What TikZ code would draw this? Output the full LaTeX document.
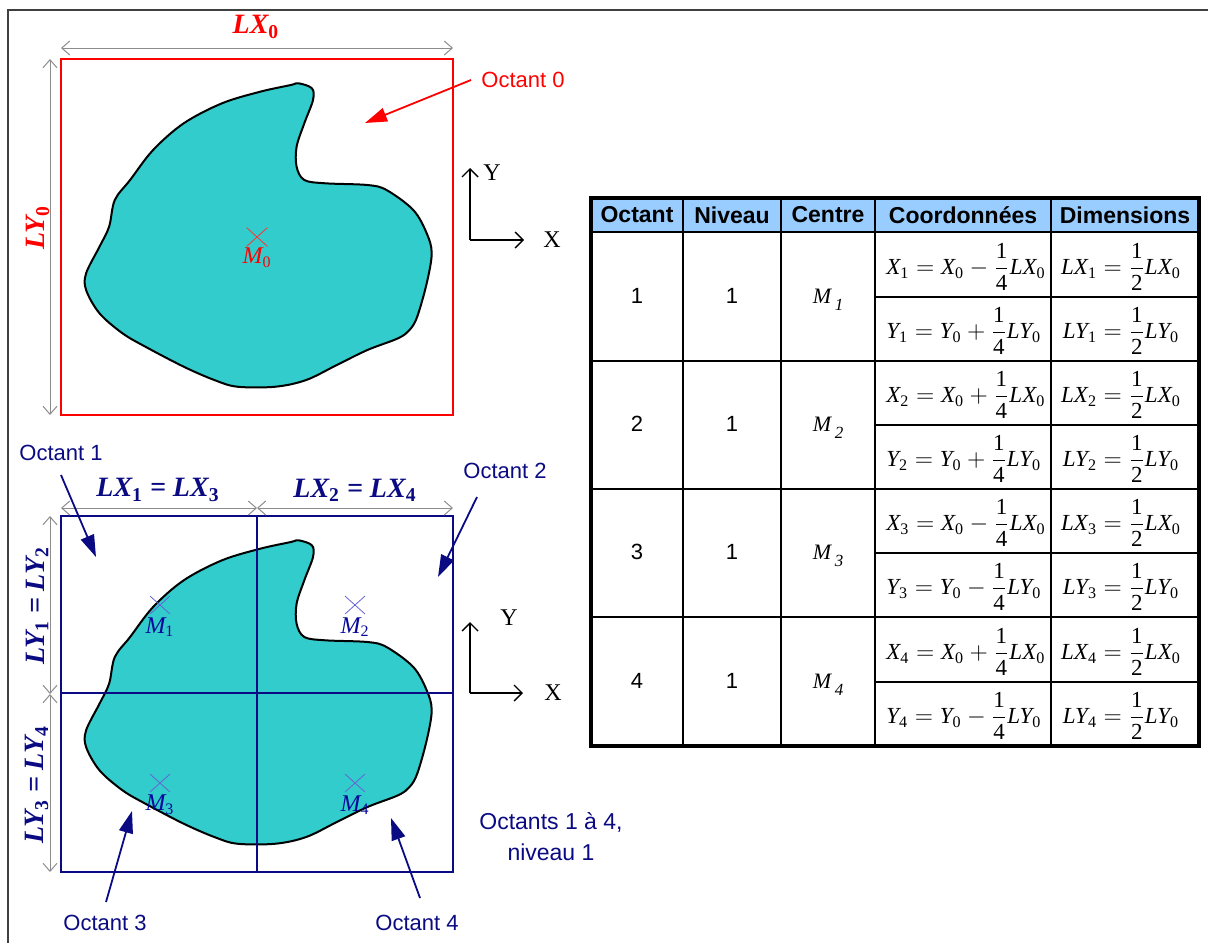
\documentclass[tikz,border=0pt]{standalone}
\usepackage{amsmath}
\usepackage{fontspec}
\setmainfont{Liberation Sans}
\newfontfamily\tms{Liberation Serif}
\usetikzlibrary{arrows.meta,shapes.misc}
\definecolor{nv}{RGB}{10,10,130}
\definecolor{cyanfill}{RGB}{51,204,204}
\definecolor{hdr}{RGB}{153,204,255}
\definecolor{xblue}{RGB}{100,100,210}
\definecolor{dimgray}{RGB}{140,140,140}
\definecolor{rd}{RGB}{255,0,0}
\newcommand\vi[1]{\text{\tms\itshape #1}}
\newcommand\vr[1]{\text{\tms\upshape #1}}
\newcommand\fq[2]{\dfrac{\vr{#1}}{\vr{#2}}}
\newcommand\cm[1]{{\tms\itshape M\,\raisebox{-3.5pt}{\fontsize{8.5}{9}\selectfont #1}}}
\newcommand\blobpath{plot[smooth cycle, tension=0.55] coordinates {
(298.5,83.3) (311.9,88.3) (313,100) (304.3,123.3) (296.6,146.7) (296.6,166.7) (304.3,180) (325.3,183.3) (367.4,185) (386.5,190) (413.3,210) (426.7,233.3) (431.7,253.3) (426.7,283.3) (417.2,316.7) (409.5,330) (398,338.3) (367.4,350) (336.8,365) (306.2,380) (275.5,386.7) (237.3,386.7) (214.3,380) (183.7,366.7) (145.4,346.7) (122.5,333.3) (99.5,313.3) (86.1,290) (86.1,273.3) (99.5,246.7) (109.1,226.7) (114.8,200) (130.1,180) (153.1,150) (183.7,123.3) (222,103.3) (260.2,91.7) (290.9,85)}}
\begin{document}
\begin{tikzpicture}[x=0.5pt,y=-0.5pt,
  dim/.style={draw=dimgray, line width=0.5pt, {Straight Barb[length=4pt,width=7pt]}-{Straight Barb[length=4pt,width=7pt]}},
  ax/.style={draw=black, line width=0.7pt, -{Straight Barb[length=4pt,width=8pt]}},
  blob/.style={fill=cyanfill, draw=black, line width=1pt},
  lbl/.style={font=\fontsize{11}{13}\selectfont, inner sep=0pt},
  ptr/.style={line width=0.9pt, -{Triangle[length=11pt,width=7pt]}},
  big/.style={font=\fontsize{14}{16}\selectfont\tms\bfseries\itshape, inner sep=0pt},
  mlab/.style={font=\fontsize{12}{14}\selectfont\tms\itshape, inner sep=0pt},
  axlab/.style={font=\fontsize{12}{14}\selectfont\tms, inner sep=0pt},
  mark0/.style={cross out, draw=rd!80, line width=0.4pt, minimum width=10pt, minimum height=9pt, inner sep=0pt},
  markb/.style={cross out, draw=xblue, line width=0.4pt, minimum width=9.5pt, minimum height=8.5pt, inner sep=0pt},
  hd/.style={font=\fontsize{11.5}{13}\selectfont\bfseries, inner sep=0pt},
  num/.style={font=\fontsize{11}{13}\selectfont, inner sep=0pt},
  fm/.style={font=\fontsize{11.5}{13}\selectfont, inner sep=0pt},
]
\useasboundingbox (0,0) rectangle (1208,943);
% outer frame
\draw[line width=1pt, black!75] (8,943) -- (8,10) -- (1208,10);

% ===== top: octant 0 =====
\draw[blob] \blobpath;
\draw[rd, line width=1pt] (61,59) rectangle (453,415);
\draw[dim] (61,48) -- (453,48);
\draw[dim] (50,59) -- (50,415);
\node[big, text=rd] (lx0) at (256,27) {LX\textsubscript{\upshape 0}};
\node[big, text=rd, rotate=90] (ly0) at (38,228) {LY\textsubscript{\upshape 0}};
\node[mark0] (m0) at (257,237) {};
\node[mlab, text=rd] (m0l) at (257,258) {M\textsubscript{\upshape 0}};
\node[lbl, text=rd] (oct0) at (523,79.5) {Octant 0};
\coordinate (o0s) at (471,80);
\coordinate (o0t) at (365,123);
\draw[ptr, rd] (o0s) -- (o0t);
\coordinate (ax0) at (470,240);
\coordinate (ax0y) at (470,168);
\coordinate (ax0x) at (524,240);
\draw[ax] (ax0) -- (ax0y);
\draw[ax] (ax0) -- (ax0x);
\node[axlab] (y0) at (492,173) {Y};
\node[axlab] (x0) at (552,240) {X};

% ===== bottom: octants 1-4 =====
\begin{scope}[shift={(0,457)}]
\draw[blob] \blobpath;
\end{scope}
\draw[nv, line width=1pt] (61,516) rectangle (453,872);
\draw[nv, line width=1pt] (257,516) -- (257,872);
\draw[nv, line width=1pt] (61,693) -- (453,693);
\draw[dim] (61,508) -- (257,508);
\draw[dim] (257,508) -- (453,508);
\draw[dim] (50,516) -- (50,694);
\draw[dim] (50,694) -- (50,872);
\node[big, text=nv] (lx13) at (158,490) {LX\textsubscript{\upshape 1} = LX\textsubscript{\upshape 3}};
\node[big, text=nv] (lx24) at (355,490) {LX\textsubscript{\upshape 2} = LX\textsubscript{\upshape 4}};
\node[big, text=nv, rotate=90] (ly12) at (37,606) {LY\textsubscript{\upshape 1} = LY\textsubscript{\upshape 2}};
\node[big, text=nv, rotate=90] (ly34) at (37,785) {LY\textsubscript{\upshape 3} = LY\textsubscript{\upshape 4}};
\node[markb] (m1) at (160,605) {};
\node[markb] (m2) at (355,605) {};
\node[markb] (m3) at (160,783) {};
\node[markb] (m4) at (355,783) {};
\node[mlab, text=nv!80!blue] (m1l) at (160,627) {M\textsubscript{\upshape 1}};
\node[mlab, text=nv!80!blue] (m2l) at (355,627) {M\textsubscript{\upshape 2}};
\node[mlab, text=nv!80!blue] (m3l) at (160,805) {M\textsubscript{\upshape 3}};
\node[mlab, text=nv!80!blue] (m4l) at (355,805) {M\textsubscript{\upshape 4}};
\node[lbl, text=nv] (oct1) at (61,453) {Octant 1};
\node[lbl, text=nv] (oct2) at (505,471) {Octant 2};
\node[lbl, text=nv] (oct3) at (105,923) {Octant 3};
\node[lbl, text=nv] (oct4) at (417,923) {Octant 4};
\node[lbl, text=nv, font=\fontsize{11.5}{15.5}\selectfont, align=center] (octs) at (551,837) {Octants 1 à 4,\\niveau 1};
\coordinate (o1s) at (61,475);
\coordinate (o1t) at (96,557);
\coordinate (o2s) at (477,497);
\coordinate (o2t) at (438,577);
\coordinate (o3s) at (106,902);
\coordinate (o3t) at (132,811);
\coordinate (o4s) at (420,898);
\coordinate (o4t) at (391,818);
\draw[ptr, nv] (o1s) -- (o1t);
\draw[ptr, nv] (o2s) -- (o2t);
\draw[ptr, nv] (o3s) -- (o3t);
\draw[ptr, nv] (o4s) -- (o4t);
\coordinate (ax1) at (470,693);
\coordinate (ax1y) at (470,622);
\coordinate (ax1x) at (523,693);
\draw[ax] (ax1) -- (ax1y);
\draw[ax] (ax1) -- (ax1x);
\node[axlab] (y1) at (509,618) {Y};
\node[axlab] (x1) at (553,693) {X};

% ===== table =====
\fill[hdr] (591,198) rectangle (1199,232);
\foreach \yy in {297,425,553,682} \draw[line width=0.8pt] (875,\yy) -- (1199,\yy);
\foreach \xx in {683,781,875,1051} \draw[line width=0.9pt] (\xx,198) -- (\xx,746);
\foreach \yy in {361,489,617} \draw[line width=1.1pt] (591,\yy) -- (1199,\yy);
\draw[line width=1.3pt] (591,232) -- (1199,232);
\draw[line width=1.6pt] (591,198) rectangle (1199,746);
\node[hd] (h1) at (637,215) {Octant};
\node[hd] (h2) at (732,215) {Niveau};
\node[hd] (h3) at (828,215) {Centre};
\node[hd] (h4) at (963,215) {Coordonnées};
\node[hd] (h5) at (1125,215) {Dimensions};
% rows
\node[num] (r1a) at (637,296) {1};
\node[num] (r1b) at (732,296) {1};
\node[num] (r1c) at (828,300) {\cm{1}};
\node[fm, anchor=west] (r1x) at (886,267) {$\vi{X}_{\vr{1}}=\vi{X}_{\vr{0}}-\fq14\vi{LX}_{\vr{0}}$};
\node[fm, anchor=west] (r1y) at (886,331) {$\vi{Y}_{\vr{1}}=\vi{Y}_{\vr{0}}+\fq14\vi{LY}_{\vr{0}}$};
\node[fm] (r1dx) at (1121,267) {$\vi{LX}_{\vr{1}}=\fq12\vi{LX}_{\vr{0}}$};
\node[fm] (r1dy) at (1121,331) {$\vi{LY}_{\vr{1}}=\fq12\vi{LY}_{\vr{0}}$};

\node[num] (r2a) at (637,424) {2};
\node[num] (r2b) at (732,424) {1};
\node[num] (r2c) at (828,428) {\cm{2}};
\node[fm, anchor=west] (r2x) at (886,395) {$\vi{X}_{\vr{2}}=\vi{X}_{\vr{0}}+\fq14\vi{LX}_{\vr{0}}$};
\node[fm, anchor=west] (r2y) at (886,459) {$\vi{Y}_{\vr{2}}=\vi{Y}_{\vr{0}}+\fq14\vi{LY}_{\vr{0}}$};
\node[fm] (r2dx) at (1121,395) {$\vi{LX}_{\vr{2}}=\fq12\vi{LX}_{\vr{0}}$};
\node[fm] (r2dy) at (1121,459) {$\vi{LY}_{\vr{2}}=\fq12\vi{LY}_{\vr{0}}$};

\node[num] (r3a) at (637,552) {3};
\node[num] (r3b) at (732,552) {1};
\node[num] (r3c) at (828,556) {\cm{3}};
\node[fm, anchor=west] (r3x) at (886,523) {$\vi{X}_{\vr{3}}=\vi{X}_{\vr{0}}-\fq14\vi{LX}_{\vr{0}}$};
\node[fm, anchor=west] (r3y) at (886,587) {$\vi{Y}_{\vr{3}}=\vi{Y}_{\vr{0}}-\fq14\vi{LY}_{\vr{0}}$};
\node[fm] (r3dx) at (1121,523) {$\vi{LX}_{\vr{3}}=\fq12\vi{LX}_{\vr{0}}$};
\node[fm] (r3dy) at (1121,587) {$\vi{LY}_{\vr{3}}=\fq12\vi{LY}_{\vr{0}}$};

\node[num] (r4a) at (637,681) {4};
\node[num] (r4b) at (732,681) {1};
\node[num] (r4c) at (828,685) {\cm{4}};
\node[fm, anchor=west] (r4x) at (886,652) {$\vi{X}_{\vr{4}}=\vi{X}_{\vr{0}}+\fq14\vi{LX}_{\vr{0}}$};
\node[fm, anchor=west] (r4y) at (886,716) {$\vi{Y}_{\vr{4}}=\vi{Y}_{\vr{0}}-\fq14\vi{LY}_{\vr{0}}$};
\node[fm] (r4dx) at (1121,652) {$\vi{LX}_{\vr{4}}=\fq12\vi{LX}_{\vr{0}}$};
\node[fm] (r4dy) at (1121,716) {$\vi{LY}_{\vr{4}}=\fq12\vi{LY}_{\vr{0}}$};
\end{tikzpicture}
\end{document}
